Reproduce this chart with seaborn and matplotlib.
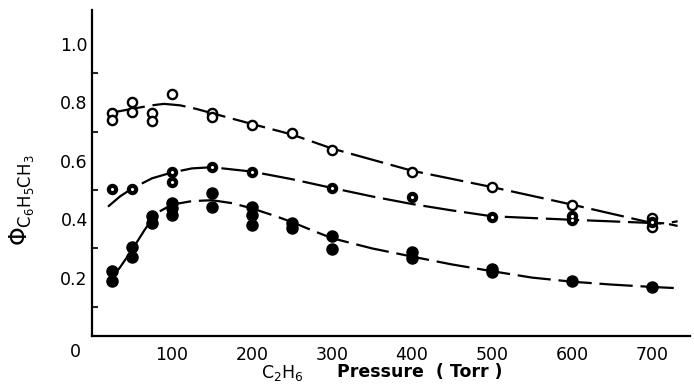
import numpy as np
import pandas as pd
import matplotlib
matplotlib.use("Agg")
import matplotlib.pyplot as plt
import seaborn as sns

# measured points (Torr, quantum yield)
open_x = [25, 25, 50, 50, 75, 75, 100, 150, 150, 200, 250, 300, 400, 500, 600, 700, 700]
open_y = [0.765, 0.74, 0.80, 0.768, 0.765, 0.736, 0.828, 0.763, 0.751, 0.723, 0.696,
          0.637, 0.563, 0.509, 0.449, 0.405, 0.372]

half_x = [25, 50, 100, 100, 150, 200, 300, 400, 500, 600, 600, 700]
half_y = [0.502, 0.502, 0.563, 0.528, 0.58, 0.563, 0.506, 0.477, 0.406, 0.41, 0.397, 0.39]

full_x = [25, 25, 50, 50, 75, 75, 100, 100, 100, 150, 150, 200, 200, 200,
          250, 250, 300, 300, 400, 400, 500, 500, 600, 700]
full_y = [0.224, 0.19, 0.304, 0.27, 0.41, 0.386, 0.456, 0.437, 0.414, 0.489, 0.443,
          0.443, 0.414, 0.38, 0.386, 0.369, 0.344, 0.297, 0.289, 0.266, 0.228, 0.218,
          0.188, 0.167]

# hand-drawn fit curves
top_curve_x = [25, 50, 75, 90, 110, 130, 150, 200, 250, 300, 400, 500, 600, 700, 718, 732]
top_curve_y = [0.765, 0.778, 0.79, 0.795, 0.79, 0.778, 0.763, 0.726, 0.69, 0.642,
               0.566, 0.51, 0.45, 0.387, 0.386, 0.393]

mid_curve_x = [20, 35, 50, 75, 100, 125, 150, 200, 250, 300, 350, 400, 450, 500, 600,
               700, 718, 732]
mid_curve_y = [0.443, 0.478, 0.505, 0.54, 0.56, 0.574, 0.578, 0.563, 0.537, 0.507,
               0.478, 0.452, 0.43, 0.41, 0.398, 0.387, 0.385, 0.377]

bot_curve_x = [25, 35, 50, 65, 80, 100, 125, 150, 175, 200, 230, 250, 275, 300, 350,
               400, 450, 500, 550, 600, 650, 700, 730]
bot_curve_y = [0.2, 0.235, 0.295, 0.36, 0.42, 0.45, 0.462, 0.465, 0.455, 0.437, 0.41,
               0.39, 0.362, 0.335, 0.3, 0.272, 0.245, 0.222, 0.2, 0.186, 0.176, 0.168,
               0.164]

x_ticks = [100, 200, 300, 400, 500, 600, 700]
y_ticks = [0.2, 0.4, 0.6, 0.8, 1.0]
y_minor = [0.1, 0.3, 0.5, 0.7, 0.9]

sns.set_style("white")
plt.rcParams["font.family"] = ["DejaVu Sans"]
plt.rcParams["text.color"] = "black"

fig = plt.figure(figsize=(6.94, 3.85), dpi=100)
ax = fig.add_axes([92 / 694, 49 / 385, 598 / 694, 326 / 385])

for cx, cy in [(top_curve_x, top_curve_y), (mid_curve_x, mid_curve_y),
               (bot_curve_x, bot_curve_y)]:
    sns.lineplot(x=cx, y=cy, ax=ax, color="black", lw=1.6, sort=False,
                 dashes=False).lines[-1].set_dashes((15, 3.5))

sns.scatterplot(x=open_x, y=open_y, ax=ax, s=44, facecolor="white",
                edgecolor="black", linewidth=1.7, zorder=3)
sns.scatterplot(x=half_x, y=half_y, ax=ax, s=52, color="black",
                edgecolor="black", linewidth=1, zorder=3)
sns.scatterplot(x=half_x, y=half_y, ax=ax, s=5, color="white",
                edgecolor="white", linewidth=0, zorder=4)
sns.scatterplot(x=full_x, y=full_y, ax=ax, s=64, color="black",
                edgecolor="black", linewidth=1, zorder=3)

ax.set_xlim(0, 747.5)
ax.set_ylim(0, 326 / 292)
for side in ["top", "right"]:
    ax.spines[side].set_visible(False)
for side in ["left", "bottom"]:
    ax.spines[side].set_linewidth(1.6)
    ax.spines[side].set_color("black")

ax.set_xticks(x_ticks)
ax.set_xticklabels([str(t) for t in x_ticks])
ax.set_yticks(y_ticks)
ax.set_yticklabels([f"{t:.1f}" for t in y_ticks])
ax.set_yticks(y_minor, minor=True)
ax.tick_params(axis="x", direction="in", length=5, width=1.5, pad=7,
               labelsize=12.5, colors="black")
ax.tick_params(axis="y", which="major", direction="in", length=6.5, width=1.5,
               pad=3, labelsize=12.5, colors="black")
ax.tick_params(axis="y", which="minor", direction="in", length=4, width=1.5, left=True)

# origin label sits left of the axis corner
ax.text(75, 385 - 352, "0", transform=None, fontsize=12.5, ha="center", va="center")
fig.text(282 / 694, 1 - 373 / 385, r"C$_2$H$_6$", fontsize=12.5, ha="center", va="center")
fig.text(420 / 694, 1 - 372 / 385, "Pressure  ( Torr )", fontsize=12.5,
         fontweight="bold", ha="center", va="center")
fig.text(22 / 694, 1 - 200 / 385, r"$\Phi_{\mathrm{C_6H_5CH_3}}$", fontsize=17,
         rotation=90, ha="center", va="center")

fig.savefig("out.png", dpi=100)
